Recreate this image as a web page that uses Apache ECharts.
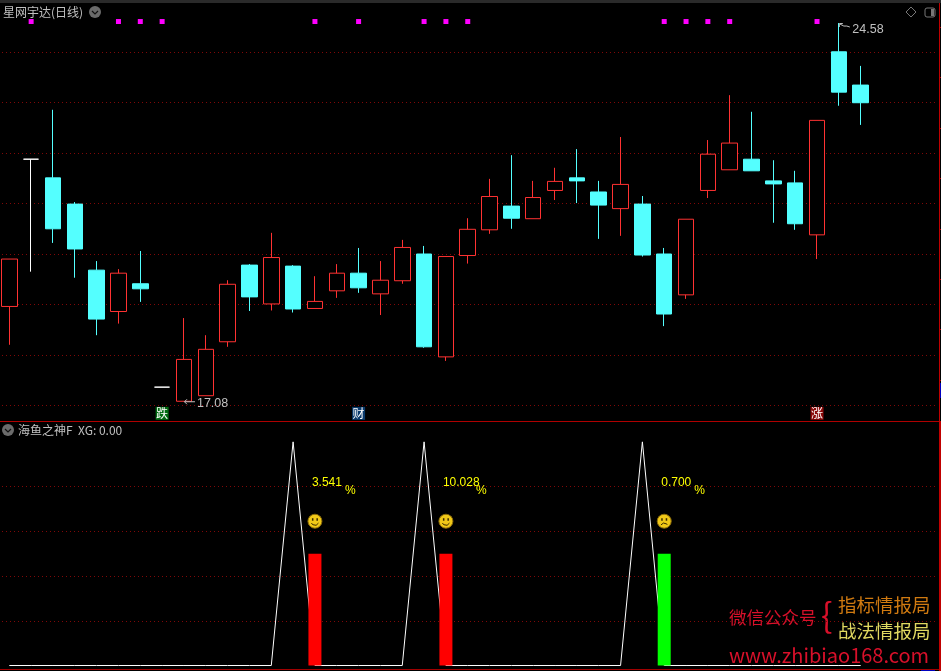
<!DOCTYPE html>
<html>
<head>
<meta charset="utf-8">
<style>
  html, body { margin: 0; padding: 0; background: #000; }
  #main { width: 941px; height: 671px; }
</style>
<script src="https://cdn.jsdelivr.net/npm/echarts@6/dist/echarts.min.js"></script>
</head>
<body>
<div id="main"></div>
<script>
'use strict'

// price candles, one entry per trading day
const opens  = [18.96,21.88,21.51,20.99,19.68,18.86,19.41,17.36,17.08,17.19,18.26,19.78,19.01,19.76,18.92,19.27,19.62,19.21,19.47,20.00,17.96,19.97,20.48,20.95,20.70,21.26,21.51,21.23,20.90,20.99,20.00,19.19,21.26,21.67,21.88,21.45,21.41,20.38,24.01,23.35]
const closes = [19.90,21.88,20.50,20.10,18.71,19.62,19.31,17.36,17.91,18.11,19.40,19.15,19.93,18.91,19.06,19.62,19.33,19.48,20.13,18.16,19.95,20.49,21.14,20.71,21.12,21.44,21.45,20.97,21.38,19.98,18.81,20.69,21.98,22.20,21.65,21.39,20.60,22.65,23.21,23.00]
const lows   = [18.20,19.65,20.22,19.53,18.39,18.62,19.05,17.36,17.08,17.19,18.16,18.87,18.88,18.84,18.92,19.13,19.23,18.79,19.41,18.14,17.88,19.81,20.40,20.50,20.70,21.07,21.01,20.30,20.36,19.95,18.57,19.11,21.11,21.67,21.65,20.62,20.48,19.90,22.94,22.56]
const highs  = [19.90,21.88,22.86,21.03,19.86,19.70,20.06,17.36,18.73,18.39,19.48,19.80,20.42,19.78,19.56,19.80,20.12,19.86,20.28,20.16,19.95,20.71,21.49,21.96,21.45,21.71,22.08,21.45,22.32,21.15,20.12,20.69,22.26,23.15,22.82,21.86,21.65,22.65,24.58,23.73]
const dojiDays = [1, 7]
const slotCount = 43
const days = Array.from({ length: slotCount }, (_, i) => String(i + 1))

const signalDays = [1, 5, 6, 7, 14, 16, 19, 20, 21, 30, 31, 32, 33, 37]
const signalPrice = 24.61

const badgeDays = [7, 16, 37]
const badgeTexts = ['跌', '财', '涨']
const badgeColors = ['#006a10', '#0a3a6c', '#8a0808']
const badgePrice = 16.84

const lowDay = 8
const lowPrice = 17.08
const highDay = 38
const highPrice = 24.58

// lower pane
const xgLine = [0,0,0,0,0,0,0,0,0,0,0,0,0,5,0,0,0,0,0,5,0,0,0,0,0,0,0,0,0,5,0,0,0,0,0,0,0,0,0,0]
const tradeDays = [14, 20, 30]
const tradeHeights = [2.5, 2.5, 2.5]
const tradeColors = ['#ff0000', '#ff0000', '#00ff00']
const tradeGains = ['3.541', '10.028', '0.700']
const tradeMoods = [1, 1, 0]
const gainLevel = 4.08
const percentLevel = 3.90
const faceLevel = 3.225

const bandWidth = 21.83
const gridLeft = -1.6
const gridWidth = bandWidth * slotCount
const dotted = { show: true, showMinLine: true, showMaxLine: false, lineStyle: { color: '#800808', type: [1, 3], dashOffset: 0.4, width: 1 } }
const cjk = '"Noto Sans CJK SC", "Liberation Sans", sans-serif'
const solid = { opacity: 1 }

const candleData = opens.map((o, i) => {
    const item = { value: [o, closes[i], lows[i], highs[i]] }
    if (dojiDays.indexOf(i) >= 0) {
        item.itemStyle = { color: '#fff', color0: '#fff', borderColor: '#fff', borderColor0: '#fff' }
    }
    return item
})

function chevron(cx, cy) {
    return [
        { type: 'circle', shape: { cx: cx, cy: cy, r: 6 }, style: { fill: '#6b6b6b' } },
        { type: 'polyline', shape: { points: [[cx - 3, cy - 1], [cx, cy + 2], [cx + 3, cy - 1]] }, style: { stroke: '#111', lineWidth: 1.2, fill: null } }
    ]
}

function label(text, x, y, size, color) {
    return { type: 'text', x: x, y: y, style: { text: text, font: size + 'px ' + cjk, fill: color, textVerticalAlign: 'middle' } }
}

// leader and price text at the extreme candles
function renderExtreme(params, api) {
    const p = api.coord([api.value(0), api.value(1)])
    const x = p[0]
    const y = p[1]
    const stroke = { stroke: '#c0c0c0', fill: null, lineWidth: 1 }
    const font = '12.5px "Liberation Sans"'
    if (api.value(2) === 0) {
        return {
            type: 'group',
            children: [
                { type: 'polyline', shape: { points: [[x + 0.5, y + 0.5], [x + 11, y + 0.5]] }, style: stroke },
                { type: 'polyline', shape: { points: [[x + 3, y - 2], [x + 0.5, y + 0.5], [x + 3, y + 3]] }, style: stroke },
                { type: 'text', x: x + 13, y: y + 2, style: { text: api.value(1).toFixed(2), font: font, fill: '#c0c0c0', textVerticalAlign: 'middle' } }
            ]
        }
    }
    return {
        type: 'group',
        children: [
            { type: 'polyline', shape: { points: [[x + 0.5, y + 4], [x + 0.5, y + 0.5], [x + 4, y + 0.5]] }, style: stroke },
            { type: 'polyline', shape: { points: [[x + 1, y + 1], [x + 5, y + 3], [x + 8, y + 3], [x + 11, y + 4]] }, style: stroke },
            { type: 'text', x: x + 13.5, y: y + 7, style: { text: api.value(1).toFixed(2), font: font, fill: '#c0c0c0', textVerticalAlign: 'middle' } }
        ]
    }
}

const chart = echarts.init(document.getElementById('main'))
chart.setOption({
    backgroundColor: '#000',
    animation: false,
    grid: [
        { left: gridLeft, top: 1.86, width: gridWidth, height: 403.44, outerBoundsMode: 'none' },
        { left: gridLeft, top: 441.8, width: gridWidth, height: 223.7, outerBoundsMode: 'none' }
    ],
    xAxis: [
        { type: 'category', data: days, gridIndex: 0, show: false },
        { type: 'category', data: days, gridIndex: 1, show: false }
    ],
    yAxis: [
        { type: 'value', gridIndex: 0, min: 17, max: 25, interval: 1, axisLine: { show: false }, axisTick: { show: false }, axisLabel: { show: false }, splitLine: dotted },
        { type: 'value', gridIndex: 1, min: 0, max: 5, interval: 1, axisLine: { show: false }, axisTick: { show: false }, axisLabel: { show: false }, splitLine: Object.assign({}, dotted, { showMinLine: false }) },
        // half-unit ticks on the right border
        {
            type: 'value', gridIndex: 0, min: 17, max: 25, interval: 1, position: 'right', offset: 3,
            axisLine: { show: false }, axisTick: { show: false }, axisLabel: { show: false }, splitLine: { show: false },
            minorTick: { show: true, splitNumber: 2, length: 2, lineStyle: { color: '#c00000' } }
        }
    ],
    series: [
        {
            type: 'candlestick',
            data: candleData,
            barWidth: 16,
            itemStyle: { color: '#000', color0: '#54ffff', borderColor: '#ff3232', borderColor0: '#54ffff', borderWidth: 1 }
        },
        {
            type: 'scatter',
            symbol: 'rect',
            symbolSize: 5,
            itemStyle: { color: '#ff00ff', opacity: 1 },
            data: signalDays.map(d => [d, signalPrice])
        },
        {
            type: 'scatter',
            symbol: 'rect',
            symbolSize: 13,
            clip: false,
            data: badgeDays.map((d, i) => ({
                value: [d, badgePrice],
                itemStyle: { color: badgeColors[i], opacity: 1 },
                label: { show: true, position: 'inside', formatter: badgeTexts[i], color: '#fff', fontSize: 12, fontFamily: cjk }
            }))
        },
        {
            type: 'custom',
            silent: true,
            clip: false,
            z: 4,
            data: [[lowDay, lowPrice, 0], [highDay, highPrice, 1]],
            renderItem: renderExtreme
        },
        {
            type: 'line',
            xAxisIndex: 1,
            yAxisIndex: 1,
            data: xgLine,
            showSymbol: false,
            z: 2,
            lineStyle: { color: '#fff', width: 1 }
        },
        {
            type: 'bar',
            xAxisIndex: 1,
            yAxisIndex: 1,
            barWidth: 13,
            z: 3,
            data: tradeDays.map((d, i) => ({ value: [d, tradeHeights[i]], itemStyle: { color: tradeColors[i] } }))
        },
        {
            type: 'scatter',
            xAxisIndex: 1,
            yAxisIndex: 1,
            symbolSize: 0,
            z: 4,
            itemStyle: solid,
            data: tradeDays.map((d, i) => ({
                value: [d, gainLevel],
                label: { show: true, position: 'right', distance: -3, formatter: tradeGains[i], color: '#ffff00', opacity: 1, fontSize: 12, fontFamily: 'Liberation Sans' }
            }))
        },
        {
            type: 'scatter',
            xAxisIndex: 1,
            yAxisIndex: 1,
            symbolSize: 0,
            z: 4,
            itemStyle: solid,
            data: tradeDays.map(d => ({
                value: [d, percentLevel],
                label: { show: true, position: 'right', distance: 30, formatter: '%', color: '#ffff00', opacity: 1, fontSize: 12, fontFamily: 'Liberation Sans' }
            }))
        },
        {
            // smiley faces above each trade
            type: 'custom',
            xAxisIndex: 1,
            yAxisIndex: 1,
            z: 4,
            data: tradeDays.map((d, i) => [d, faceLevel, tradeMoods[i]]),
            renderItem: function (params, api) {
                const p = api.coord([api.value(0), api.value(1)])
                const cx = p[0]
                const cy = p[1]
                const happy = api.value(2) === 1
                return {
                    type: 'group',
                    children: [
                        { type: 'circle', shape: { cx: cx, cy: cy, r: 7 }, style: { fill: '#f0c818', stroke: '#8a6a08', lineWidth: 1 } },
                        { type: 'rect', shape: { x: cx - 3, y: cy - 3, width: 1.5, height: 2.5 }, style: { fill: '#3a2a00' } },
                        { type: 'rect', shape: { x: cx + 1.5, y: cy - 3, width: 1.5, height: 2.5 }, style: { fill: '#3a2a00' } },
                        {
                            type: 'arc',
                            shape: happy
                                ? { cx: cx, cy: cy, r: 4, startAngle: 0.5, endAngle: Math.PI - 0.5 }
                                : { cx: cx, cy: cy + 6, r: 4, startAngle: Math.PI + 0.6, endAngle: 2 * Math.PI - 0.6 },
                            style: { stroke: '#3a2a00', fill: null, lineWidth: 1 }
                        }
                    ]
                }
            }
        }
    ],
    graphic: [
        // frame
        { type: 'rect', shape: { x: 0, y: 0, width: 941, height: 3 }, style: { fill: '#2a2a2a' }, z: 10 },
        { type: 'rect', shape: { x: 0, y: 421, width: 939, height: 1 }, style: { fill: '#b00000' }, z: 10 },
        { type: 'rect', shape: { x: 0, y: 669, width: 939, height: 1 }, style: { fill: '#a00000' }, z: 10 },
        { type: 'rect', shape: { x: 939, y: 3, width: 1, height: 418 }, style: { fill: '#c00000' }, z: 10 },
        { type: 'rect', shape: { x: 939, y: 421, width: 2, height: 250 }, style: { fill: '#c00000' }, z: 10 },
        { type: 'rect', shape: { x: 940, y: 383, width: 1, height: 15 }, style: { fill: '#0000c0' }, z: 10 },
        { type: 'rect', shape: { x: 921, y: 670, width: 14, height: 1 }, style: { fill: '#0000c0' }, z: 10 },
        // pane headers
        label('星网宇达(日线)', 3, 12, 12, '#c0c0c0'),
        ...chevron(95, 12),
        ...chevron(8, 430),
        label('海鱼之神F', 18, 430, 12, '#c0c0c0'),
        label('XG: 0.00', 78, 430, 12, '#c0c0c0'),
        // top right icons
        { type: 'polygon', shape: { points: [[911, 7], [916, 12], [911, 17], [906, 12]] }, style: { fill: null, stroke: '#777', lineWidth: 1 } },
        { type: 'rect', shape: { x: 925, y: 8, width: 10, height: 9, r: 2 }, style: { fill: null, stroke: '#777', lineWidth: 1 } },
        { type: 'rect', shape: { x: 931, y: 9, width: 3, height: 7 }, style: { fill: '#777' } },
        // watermark
        label('微信公众号', 729, 617, 17.5, '#d8102a'),
        label('{', 821, 615, 34, '#d8102a'),
        label('指标情报局', 838, 605, 18.5, '#d07a10'),
        label('战法情报局', 838, 631, 18.5, '#e0d860'),
        label('www.zhibiao168.com', 729, 655, 20, '#d8102a')
    ]
})
</script>
</body>
</html>
